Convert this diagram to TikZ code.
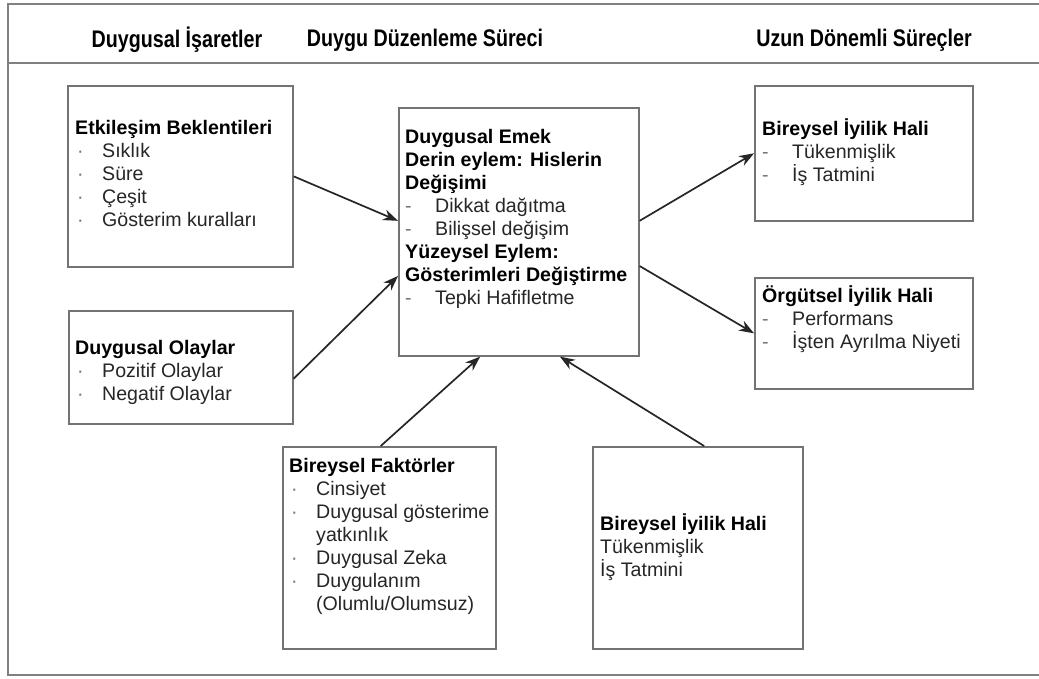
\documentclass[tikz,border=0pt]{standalone}
\usepackage{fontspec}
\setmainfont{Liberation Sans}
\newfontfamily\headfont[FakeStretch=0.82]{Liberation Sans}
\usetikzlibrary{arrows.meta,calc}
\newcommand\itm[1]{\makebox[27pt][l]{\hspace{2pt}\textcolor{black!55}{·}}#1}
\newcommand\dsh[1]{\makebox[30pt][l]{\textcolor{black!55}{-}}#1}
\newcommand\ttl[1]{\textbf{\textcolor{black}{#1}}}
\begin{document}
\begin{tikzpicture}[x=1pt,y=-1pt,
  frameline/.style={draw=black!50,line width=2.5pt},
  boxstyle/.style={draw=black!55,line width=1.6pt,rectangle,inner sep=0pt,anchor=north west},
  txt/.style={anchor=north west,inner sep=0pt,align=left,font=\fontsize{19.6}{23}\selectfont,text=black!85},
  head/.style={inner sep=0pt,font=\headfont\bfseries\fontsize{24}{28}\selectfont},
  arr/.style={draw=black!85,line width=1.7pt,-{Stealth[length=15pt,width=11pt]}}]
\useasboundingbox (0,0) rectangle (1039,678);
\fill[white] (0,0) rectangle (1039,678);
% frame
\coordinate (ftr) at (1045,4);
\coordinate (ftl) at (8,4);
\coordinate (fbl) at (8,675);
\coordinate (fbr) at (1045,675);
\coordinate (hl) at (8,63);
\coordinate (hr) at (1045,63);
\draw[frameline] (ftr) -- (ftl) -- (fbl) -- (fbr);
\draw[frameline] (hl) -- (hr);
% headers
\node[head] (h1) at (177,40) {Duygusal İşaretler};
\node[head] (h2) at (425,40) {Duygu Düzenleme Süreci};
\node[head] (h3) at (864,40) {Uzun Dönemli Süreçler};
% boxes
\node[boxstyle,minimum width=225pt,minimum height=181pt] (b1) at (67,85) {};
\node[boxstyle,minimum width=224pt,minimum height=113pt] (b2) at (68,310) {};
\node[boxstyle,minimum width=240pt,minimum height=248pt] (cb) at (398,107) {};
\node[boxstyle,minimum width=218pt,minimum height=135pt] (rt) at (754,85) {};
\node[boxstyle,minimum width=218pt,minimum height=111pt] (rm) at (754,277) {};
\node[boxstyle,minimum width=213pt,minimum height=202pt] (bf) at (282,446) {};
\node[boxstyle,minimum width=210pt,minimum height=202pt] (bi) at (592,446) {};
% texts
\node[txt] (t1) at (75,118) {\strut\ttl{Etkileşim Beklentileri}\\\itm{Sıklık}\\\itm{Süre}\\\itm{Çeşit}\\\itm{Gösterim kuralları}};
\node[txt] (t2) at (75,338) {\strut\ttl{Duygusal Olaylar}\\\itm{Pozitif Olaylar}\\\itm{Negatif Olaylar}};
\node[txt] (tc) at (405,127) {\strut\ttl{Duygusal Emek}\\\ttl{Derin eylem: Hislerin}\\\ttl{Değişimi}\\\dsh{Dikkat dağıtma}\\\dsh{Bilişsel değişim}\\\ttl{Yüzeysel Eylem:}\\\ttl{Gösterimleri Değiştirme}\\\dsh{Tepki Hafifletme}};
\node[txt] (trt) at (762,119) {\strut\ttl{Bireysel İyilik Hali}\\\dsh{Tükenmişlik}\\\dsh{İş Tatmini}};
\node[txt] (trm) at (762,286) {\strut\ttl{Örgütsel İyilik Hali}\\\dsh{Performans}\\\dsh{İşten Ayrılma Niyeti}};
\node[txt] (tbf) at (289,456) {\strut\ttl{Bireysel Faktörler}\\\itm{Cinsiyet}\\\itm{Duygusal gösterime}\\\hspace*{27pt}yatkınlık\\\itm{Duygusal Zeka}\\\itm{Duygulanım}\\\hspace*{27pt}(Olumlu/Olumsuz)};
\node[txt] (tbi) at (600,514) {\strut\ttl{Bireysel İyilik Hali}\\Tükenmişlik\\İş Tatmini};
% arrows
\draw[arr] (b1.east) -- ($(cb.north west)!0.456!(cb.south west)$);
\draw[arr] ($(b2.north east)!0.60!(b2.south east)$) -- ($(cb.north west)!0.677!(cb.south west)$);
\draw[arr] ($(cb.north east)!0.456!(cb.south east)$) -- (rt.west);
\draw[arr] ($(cb.north east)!0.637!(cb.south east)$) -- (rm.west);
\draw[arr] ($(bf.north west)!0.46!(bf.north east)$) -- ($(cb.south west)!0.34!(cb.south east)$);
\draw[arr] ($(bi.north west)!0.53!(bi.north east)$) -- ($(cb.south west)!0.67!(cb.south east)$);
\end{tikzpicture}
\end{document}
